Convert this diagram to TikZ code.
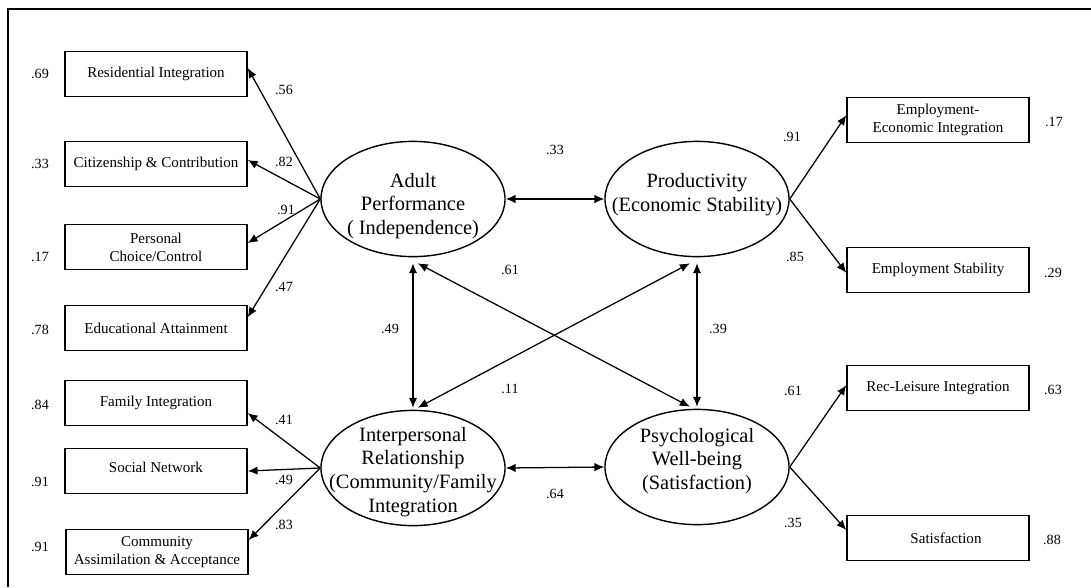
\documentclass[tikz,border=0pt]{standalone}
\usepackage{fontspec}
\setmainfont{Liberation Serif}
\usetikzlibrary{shapes.geometric, arrows.meta}

\tikzset{
  indicator/.style={rectangle, draw, line width=1pt, minimum width=4.55cm, minimum height=1.12cm, align=center, font=\fontsize{10.7}{12.8}\selectfont},
  latent/.style={ellipse, draw, line width=1pt, minimum width=4.6cm, minimum height=2.88cm},
  lattext/.style={align=center, font=\fontsize{14.5}{17}\selectfont},
  coef/.style={font=\fontsize{10}{12}\selectfont},
  loading/.style={-{Latex[length=7pt,width=6pt]}, line width=0.9pt},
  corr/.style={{Latex[length=7pt,width=6pt]}-{Latex[length=7pt,width=6pt]}, line width=0.9pt}
}

\begin{document}
\begin{tikzpicture}[x=0.025cm, y=-0.025cm]

\useasboundingbox (0,0) rectangle (1091,587);
\draw[line width=0.9pt] (8,587) -- (8,9) -- (1091,9);

\node[latent] (adult) at (413,199) {};
\node[lattext] (adulttext) at (413,206) {Adult\\Performance\\( Independence)};
\node[latent] (prod) at (697,199) {};
\node[lattext] (prodtext) at (697,195) {Productivity\\(Economic Stability)};
\node[latent] (inter) at (413,468) {};
\node[lattext] (intertext) at (413,472) {Interpersonal\\Relationship\\(Community/Family\\Integration};
\node[latent] (psych) at (697,467) {};
\node[lattext] (psychtext) at (697,461) {Psychological\\Well-being\\(Satisfaction)};

\node[indicator] (res) at (156,74) {Residential Integration};
\node[indicator] (cit) at (156,164) {Citizenship \& Contribution};
\node[indicator] (pcc) at (156,247) {Personal\\Choice/Control};
\node[indicator] (edu) at (156,328) {Educational Attainment};
\node[indicator] (fam) at (156,403) {Family Integration};
\node[indicator] (soc) at (156,471) {\raisebox{6pt}{Social Network}};
\node[indicator] (cas) at (157,552) {Community\\Assimilation \& Acceptance};

\node[indicator] (eei) at (938,120) {Employment-\\Economic Integration};
\node[indicator] (est) at (938,270) {Employment Stability};
\node[indicator] (rli) at (938,388) {Rec-Leisure Integration};
\node[indicator] (sat) at (938,538) {\hspace{0.4cm}Satisfaction};

\node[coef] (eres) at (40,74) {.69};
\node[coef] (ecit) at (40,164) {.33};
\node[coef] (epcc) at (40,257) {.17};
\node[coef] (eedu) at (40,330) {.78};
\node[coef] (efam) at (40,405) {.84};
\node[coef] (esoc) at (40,482) {.91};
\node[coef] (ecas) at (40,547) {.91};
\node[coef] (eeei) at (1054,122) {.17};
\node[coef] (eest) at (1053,273) {.29};
\node[coef] (erli) at (1053,390) {.63};
\node[coef] (esat) at (1052,540) {.88};

\draw[loading] (adult.west) -- ([yshift=0.15cm]res.east);
\draw[loading] (adult.west) -- ([yshift=0.1cm]cit.east);
\draw[loading] (adult.west) -- ([yshift=0.1cm]pcc.east);
\draw[loading] (adult.west) -- ([yshift=0.27cm]edu.east);
\node[coef] (lres) at (284,90) {.56};
\node[coef] (lcit) at (284,162) {.82};
\node[coef] (lpcc) at (286,210) {.91};
\node[coef] (ledu) at (284,287) {.47};

\draw[loading] (inter.west) -- ([yshift=-0.25cm]fam.east);
\draw[loading] (inter.west) -- (soc.east);
\draw[loading] (inter.west) -- ([yshift=0.3cm]cas.east);
\node[coef] (lfam) at (284,420) {.41};
\node[coef] (lsoc) at (284,480) {.49};
\node[coef] (lcas) at (284,525) {.83};

\draw[loading] (prod.east) -- ([yshift=0.12cm]eei.west);
\draw[loading] (prod.east) -- ([yshift=-0.07cm]est.west);
\draw[loading] (psych.east) -- ([yshift=0.07cm]rli.west);
\draw[loading] (psych.east) -- ([yshift=0.2cm]sat.west);
\node[coef] (leei) at (792,137) {.91};
\node[coef] (lest) at (795,257) {.85};
\node[coef] (lrli) at (793,391) {.61};
\node[coef] (lsat) at (793,523) {.35};

\draw[corr] (adult.east) -- (prod.west);
\draw[corr] (inter.east) -- (psych.west);
\draw[corr] ([yshift=-0.15cm]adult.south) -- ([yshift=0.05cm]inter.north);
\draw[corr] ([yshift=-0.15cm]prod.south) -- ([yshift=0.05cm]psych.north);
\draw[corr] ([xshift=0.12cm, yshift=-0.15cm]adult.south) -- ([xshift=-0.18cm, yshift=0.05cm]psych.north);
\draw[corr] ([xshift=0.12cm, yshift=0.05cm]inter.north) -- ([xshift=-0.18cm, yshift=-0.15cm]prod.south);
\node[coef] (c33) at (555,150) {.33};
\node[coef] (c61) at (510,270) {.61};
\node[coef] (c49) at (390,329) {.49};
\node[coef] (c39) at (718,329) {.39};
\node[coef] (c11) at (510,389) {.11};
\node[coef] (c64) at (555,494) {.64};

\end{tikzpicture}
\end{document}
